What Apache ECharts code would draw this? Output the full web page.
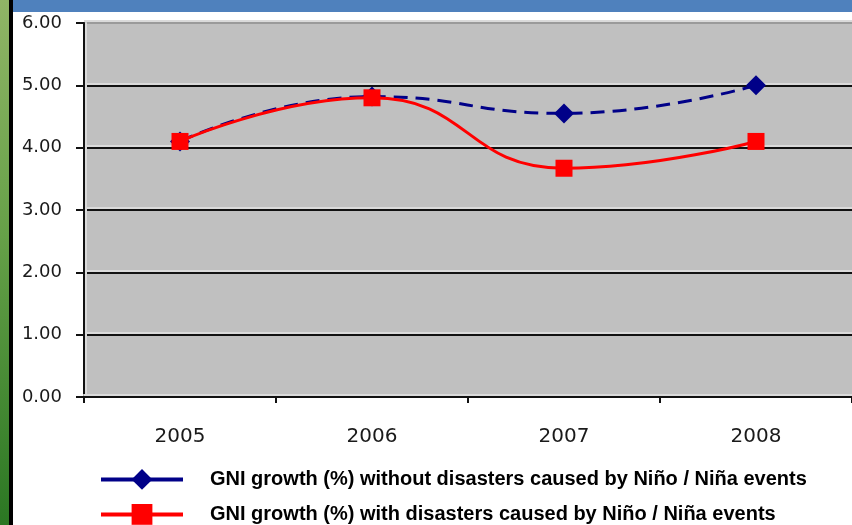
<!DOCTYPE html>
<html>
<head>
<meta charset="utf-8">
<script src="https://cdn.jsdelivr.net/npm/echarts@6/dist/echarts.min.js"></script>
<style>
  html, body { margin: 0; padding: 0; background: #ffffff; }
  #chart { width: 852px; height: 525px; }
</style>
</head>
<body>
<div id="chart"></div>
<script>
// Years on the category axis
const years = ['2005', '2006', '2007', '2008'];

// GNI growth (%) for each scenario
const gniWithoutDisasters = [4.10, 4.82, 4.55, 5.00];
const gniWithDisasters = [4.10, 4.80, 3.67, 4.10];

// Series names shown in the legend
const nameWithout = 'GNI growth (%) without disasters caused by Niño / Niña events';
const nameWith = 'GNI growth (%) with disasters caused by Niño / Niña events';

// Value axis range and step
const yMin = 0;
const yMax = 6;
const yStep = 1;

const chart = echarts.init(document.getElementById('chart'), null, { renderer: 'canvas' });

const gridLineColors = ['#111111', '#111111', '#111111', '#111111', '#111111', '#111111', '#9a9a9a'];

// one legend block per row so each entry sits on its own line
function legendRow(name, top) {
  return {
    orient: 'horizontal',
    left: 94,
    top: top,
    itemWidth: 82,
    itemHeight: 26,
    textStyle: {
      fontFamily: 'Liberation Sans, Arial, sans-serif',
      fontWeight: 'bold',
      fontSize: 20,
      color: '#000000',
      padding: [0, 0, 0, 22]
    },
    data: [{ name: name, lineStyle: { type: 'solid', width: 4 } }]
  };
}

chart.setOption({
  backgroundColor: '#ffffff',
  animation: false,
  graphic: [
    // green side band with dark edge
    {
      type: 'rect', left: 0, top: 0, z: -10,
      shape: { width: 9, height: 525 },
      style: {
        fill: new echarts.graphic.LinearGradient(0, 0, 0, 1, [
          { offset: 0, color: '#90b566' },
          { offset: 0.45, color: '#66a048' },
          { offset: 1, color: '#2b7723' }
        ])
      }
    },
    { type: 'rect', left: 9, top: 0, z: -10, shape: { width: 4, height: 525 }, style: { fill: '#000000' } },
    // blue header strip
    { type: 'rect', left: 13, top: 0, z: -10, shape: { width: 839, height: 12 }, style: { fill: '#4f81bd' } }
  ],
  grid: {
    left: 84,
    top: 23,
    width: 771,
    height: 374,
    show: true,
    backgroundColor: '#c0c0c0',
    borderWidth: 0
  },
  legend: [legendRow(nameWithout, 464), legendRow(nameWith, 499)],
  xAxis: {
    type: 'category',
    data: years,
    boundaryGap: true,
    axisLine: {
      show: true,
      lineStyle: { color: '#111111', width: 2, shadowColor: '#dadada', shadowOffsetY: -2, shadowBlur: 0 }
    },
    axisTick: { show: true, inside: false, length: 6, lineStyle: { color: '#111111', width: 2 } },
    axisLabel: {
      margin: 30,
      fontFamily: 'DejaVu Sans, sans-serif',
      fontSize: 20,
      color: '#1a1a1a'
    },
    splitLine: { show: false }
  },
  yAxis: {
    type: 'value',
    min: yMin,
    max: yMax,
    interval: yStep,
    axisLine: {
      show: true,
      lineStyle: { color: '#111111', width: 2, shadowColor: '#dadada', shadowOffsetX: 2, shadowBlur: 0 }
    },
    axisTick: { show: true, inside: false, length: 8, lineStyle: { color: '#111111', width: 2 } },
    axisLabel: {
      margin: 22,
      fontFamily: 'DejaVu Sans, sans-serif',
      fontSize: 18,
      color: '#1a1a1a',
      formatter: function (v) { return v.toFixed(2); }
    },
    splitLine: {
      show: true,
      lineStyle: { color: gridLineColors, width: 2, shadowColor: '#dadada', shadowOffsetY: -2, shadowBlur: 0 }
    }
  },
  series: [
    {
      name: nameWithout,
      type: 'line',
      data: gniWithoutDisasters,
      smooth: 0.5,
      symbol: 'diamond',
      symbolSize: 20,
      itemStyle: { color: '#000088' },
      lineStyle: { color: '#000088', width: 3, type: [14, 8] },
      z: 2
    },
    {
      name: nameWith,
      type: 'line',
      data: gniWithDisasters,
      smooth: 0.5,
      symbol: 'rect',
      symbolSize: 17,
      itemStyle: { color: '#ff0000' },
      lineStyle: { color: '#ff0000', width: 3 },
      z: 3
    }
  ]
});
</script>
</body>
</html>
